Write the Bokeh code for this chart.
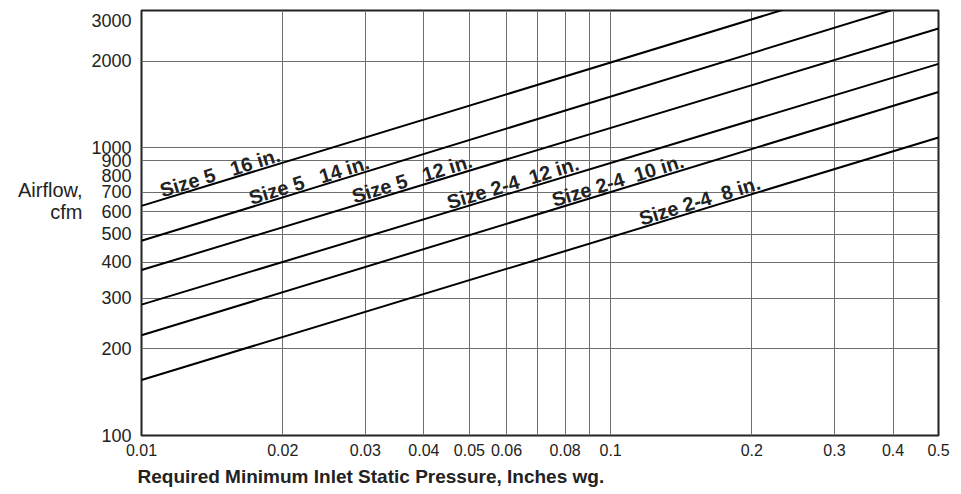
import math
from bokeh.plotting import figure
from bokeh.models import FixedTicker, Title, Range1d
from bokeh.core.properties import value
from bokeh.embed import file_html
from bokeh.resources import INLINE

# ---- data ----
pressure = [0.01, 0.5]                 # in. wg (line end points)
size5_16 = [628, 4413]                 # cfm
size5_14 = [475, 3375]
size5_12 = [376, 2596]
size24_12 = [285, 1957]
size24_10 = [223, 1563]
size24_8 = [156, 1086]

series = [size5_16, size5_14, size5_12, size24_12, size24_10, size24_8]
NB = "\u00a0"
series_names = ["Size 5" + NB + NB + " 16 in.", "Size 5" + NB + NB + " 14 in.",
                "Size 5" + NB + NB + " 12 in.", "Size 2-4" + NB + " 12 in.",
                "Size 2-4" + NB + " 10 in.", "Size 2-4" + NB + " 8 in."]
label_pressure = [0.01087, 0.01683, 0.0279, 0.04448, 0.07447, 0.1142]

x_ticks = [0.01, 0.02, 0.03, 0.04, 0.05, 0.06, 0.08, 0.1, 0.2, 0.3, 0.4, 0.5]
x_tick_labels = ["0.01", "0.02", "0.03", "0.04", "0.05", "0.06", "0.08",
                 "0.1", "0.2", "0.3", "0.4", "0.5"]
x_grid = [0.02, 0.03, 0.04, 0.05, 0.06, 0.07, 0.08, 0.09, 0.1, 0.2, 0.3, 0.4]

y_ticks = [100, 200, 300, 400, 500, 600, 700, 800, 900, 1000, 2000, 3000]
y_tick_labels = ["100", "200", "300", "400", "500", "600", "700", "800",
                 "900", "1000", "2000", "3000"]
y_grid = [200, 300, 400, 500, 600, 700, 900, 1000, 2000]

FONT = "Liberation Sans"
TXT = "#222222"

p = figure(width=950, height=492, x_axis_type="log", y_axis_type="log",
           x_range=Range1d(0.01, 0.5), y_range=Range1d(100, 3000),
           output_backend="svg", toolbar_location=None,
           min_border_left=141, min_border_right=12,
           min_border_top=10, min_border_bottom=57)
p.background_fill_color = "white"
p.border_fill_color = "white"
p.outline_line_color = "#222222"
p.outline_line_width = 2

for ax in (p.xaxis[0], p.yaxis[0]):
    ax.major_tick_in = 0
    ax.major_tick_out = 0
    ax.minor_tick_in = 0
    ax.minor_tick_out = 0
    ax.axis_line_color = None
    ax.major_label_text_font = FONT
    ax.major_label_text_color = TXT

p.xaxis.ticker = FixedTicker(ticks=x_ticks)
p.xaxis.major_label_overrides = dict(zip(x_ticks, x_tick_labels))
p.xaxis.major_label_text_font_size = "16px"
p.xaxis.major_label_standoff = 8

p.yaxis.ticker = FixedTicker(ticks=y_ticks)
y_over = dict(zip(y_ticks, y_tick_labels))
y_over[3000] = "\n" + y_over[3000]     # the top label sits just below the frame edge
p.yaxis.major_label_overrides = y_over
p.yaxis.major_label_text_font_size = "18px"
p.yaxis.major_label_text_line_height = 0.5
p.yaxis.major_label_standoff = 10

# y axis title, horizontal, lifted above the frame centre like the reference
p.yaxis.axis_label = "Airflow,\ncfm\n\n"
p.yaxis.axis_label_orientation = "horizontal"
p.yaxis.axis_label_text_font = FONT
p.yaxis.axis_label_text_font_style = "normal"
p.yaxis.axis_label_text_font_size = "20px"
p.yaxis.axis_label_text_color = TXT
p.yaxis.axis_label_text_align = "right"
p.yaxis.axis_label_text_line_height = 1.0
p.yaxis.axis_label_standoff = 6

p.xgrid.ticker = FixedTicker(ticks=x_grid)
p.ygrid.ticker = FixedTicker(ticks=y_grid)
for g in (p.xgrid[0], p.ygrid[0]):
    g.grid_line_color = "#6e6e6e"
    g.grid_line_width = 1

# lines
for s in series:
    p.line(pressure, s, line_color="black", line_width=2)

# line labels
lx0, lx1 = math.log10(pressure[0]), math.log10(pressure[1])
lab_x, lab_y = [], []
for s, xl in zip(series, label_pressure):
    ly0, ly1 = math.log10(s[0]), math.log10(s[1])
    t = (math.log10(xl) - lx0) / (lx1 - lx0)
    lab_x.append(xl)
    lab_y.append(10 ** (ly0 + t * (ly1 - ly0)))
p.text(x=lab_x, y=lab_y, text=series_names, angle=17.0, angle_units="deg",
       text_font=value(FONT), text_font_style="bold", text_font_size="20px",
       text_color=TXT, text_align="left", text_baseline="alphabetic",
       x_offset=2, y_offset=-10)

# x axis title
p.add_layout(Title(text="Required Minimum Inlet Static Pressure, Inches wg.",
                   align="left", text_font=FONT, text_font_size="19px",
                   text_font_style="bold", text_color=TXT, offset=-4), "below")

open("out.html", "w").write(file_html(p, INLINE))
